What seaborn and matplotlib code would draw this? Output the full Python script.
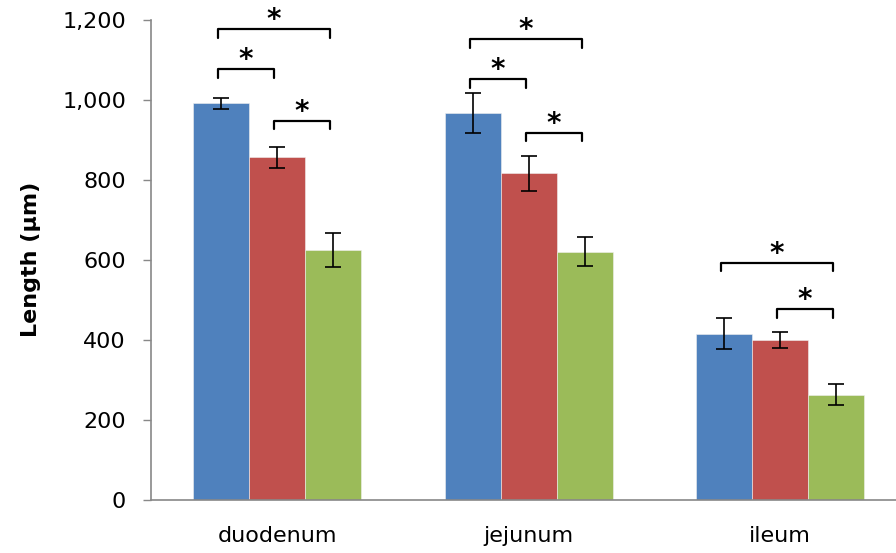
import matplotlib
matplotlib.use("Agg")
import matplotlib.pyplot as plt
from matplotlib.ticker import StrMethodFormatter
import seaborn as sns
import pandas as pd
import numpy as np

# data
segments = ["duodenum", "jejunum", "ileum"]
groups = ["group 1", "group 2", "group 3"]
blue_vals = [992, 968, 415]
red_vals = [856, 816, 398]
green_vals = [624, 620, 262]
blue_err = [14, 50, 39]
red_err = [27, 43, 20]
green_err = [42, 36, 26]
colors = ["#4F81BD", "#C0504D", "#9BBB59"]

# significance brackets: (segment index, group a, group b, bracket height)
brackets = [
    (0, 0, 1, 1078), (0, 0, 2, 1178), (0, 1, 2, 948),
    (1, 0, 1, 1053), (1, 0, 2, 1153), (1, 1, 2, 918),
    (2, 0, 2, 593), (2, 1, 2, 477),
]

df = pd.DataFrame({
    "segment": segments * 3,
    "group": [g for g in groups for _ in segments],
    "length": blue_vals + red_vals + green_vals,
    "err": blue_err + red_err + green_err,
})

sns.set_theme(style="white")
plt.rcParams["font.family"] = ["DejaVu Sans"]
plt.rcParams["text.color"] = "black"
plt.rcParams["xtick.color"] = "black"
plt.rcParams["ytick.color"] = "black"
plt.rcParams["axes.labelcolor"] = "black"

fig = plt.figure(figsize=(8.96, 5.53), dpi=100)
ax = fig.add_axes([151 / 896, 53.5 / 553, 745 / 896, 479.5 / 553])

sns.barplot(data=df, x="segment", y="length", hue="group", order=segments,
            hue_order=groups, palette=colors, width=0.668, gap=0,
            errorbar=None, legend=False, saturation=1, ax=ax,
            edgecolor="#f0f0f0", linewidth=0.4)

# bar centres from the drawn patches (hue-major order)
centers = {}
for i, p in enumerate(ax.patches[:9]):
    g, s = divmod(i, 3)
    cx = p.get_x() + p.get_width() / 2
    centers[(s, g)] = cx
    row = df[(df["segment"] == segments[s]) & (df["group"] == groups[g])].iloc[0]
    ax.errorbar(cx, row["length"], yerr=row["err"], fmt="none", ecolor="black",
                elinewidth=1.2, capsize=5.5, capthick=1.2)

leg = 22
for s, a, b, h in brackets:
    x1 = centers[(s, a)] - 0.012
    x2 = centers[(s, b)] - 0.012
    ax.plot([x1, x1, x2, x2], [h - leg, h, h, h - leg], color="black", lw=1.6,
            solid_joinstyle="round", clip_on=False)
    ax.text((x1 + x2) / 2, h + 2, "*", ha="center", va="baseline", fontsize=20,
            fontweight="bold", color="black")

ax.set_xlim(-0.501, 2.461)
ax.set_ylim(0, 1200)
ax.set_yticks(range(0, 1201, 200))
ax.yaxis.set_major_formatter(StrMethodFormatter("{x:,.0f}"))
ax.set_xlabel("")
ax.set_ylabel("Length (μm)", fontsize=16, fontweight="bold")
ax.yaxis.set_label_coords(-0.148, 0.5)
ax.tick_params(axis="y", labelsize=16, length=6, width=1, color="#888888",
               left=True, direction="out", pad=12)
ax.tick_params(axis="x", labelsize=16, length=0, pad=19)

for side in ["top", "right"]:
    ax.spines[side].set_visible(False)
for side in ["left", "bottom"]:
    ax.spines[side].set_color("#888888")
    ax.spines[side].set_linewidth(1.2)

fig.savefig("out.png", dpi=100)
